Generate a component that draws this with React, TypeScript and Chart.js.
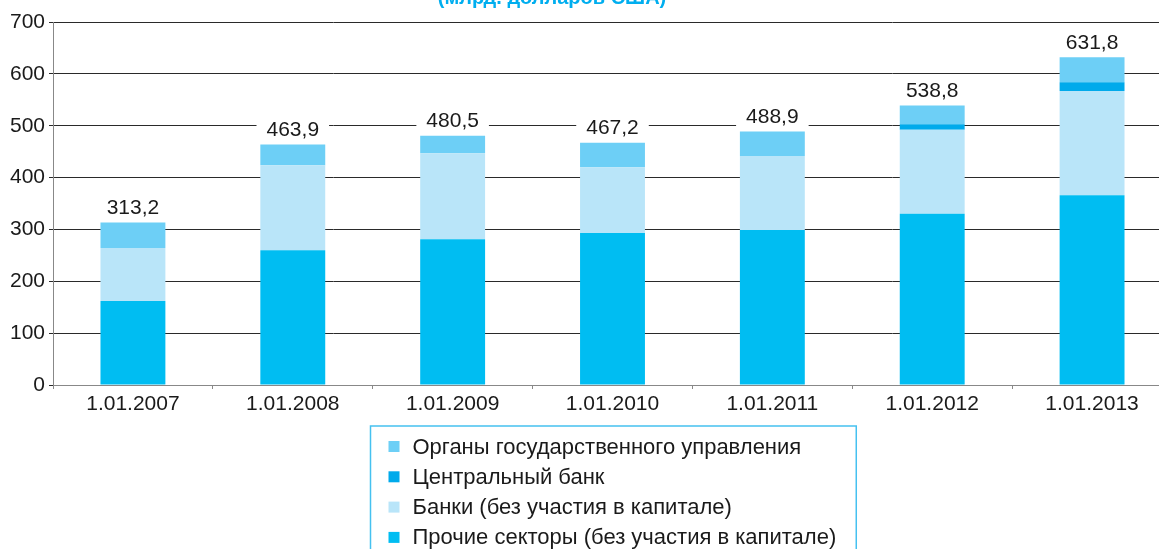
import React, { useEffect, useRef } from "react";
import { Chart, registerables } from "chart.js";

Chart.register(...registerables);

const categories = ["1.01.2007", "1.01.2008", "1.01.2009", "1.01.2010", "1.01.2011", "1.01.2012", "1.01.2013"];
const totals = [313.2, 463.9, 480.5, 467.2, 488.9, 538.8, 631.8];
const prochie = [162, 260, 281, 293, 299, 330, 366];
const banki = [102, 164, 166, 127, 142.6, 162, 201];
const centralBank = [0, 0, 0, 0, 0, 11, 17];
const organy = [49.2, 39.9, 33.5, 47.2, 47.3, 35.8, 47.8];
const yTicks = [0, 100, 200, 300, 400, 500, 600, 700];
const titleText = "(млрд. долларов США)";

const FONT = "'Liberation Sans', Arial, Helvetica, sans-serif";

const totalsPlugin = {
  id: "totalsPlugin",
  afterDatasetsDraw(chart: any) {
    const ctx = chart.ctx;
    const n = chart.data.datasets.length;
    const meta = chart.getDatasetMeta(n - 1);
    ctx.save();
    ctx.font = `21px ${FONT}`;
    ctx.textAlign = "center";
    ctx.textBaseline = "middle";
    meta.data.forEach((el: any, i: number) => {
      const txt = totals[i].toFixed(1).replace(".", ",");
      const w = ctx.measureText(txt).width + 20;
      const cy = el.y - 15.5;
      ctx.fillStyle = "#ffffff";
      ctx.fillRect(el.x - w / 2, cy - 11, w, 22);
      ctx.fillStyle = "#1a1a1a";
      ctx.fillText(txt, el.x, cy + 1);
    });
    ctx.restore();
  },
};

const extrasPlugin = {
  id: "extrasPlugin",
  afterDraw(chart: any) {
    const ctx = chart.ctx;
    const area = chart.chartArea;
    ctx.save();
    // title (partly outside the visible page)
    ctx.font = `bold 20px ${FONT}`;
    ctx.fillStyle = "#00AEEF";
    ctx.textAlign = "center";
    ctx.textBaseline = "alphabetic";
    ctx.fillText(titleText, area.left + 499, 4);

    // legend box, items in reverse stacking order
    const ds = chart.data.datasets.slice().reverse();
    ctx.font = `22px ${FONT}`;
    let maxW = 0;
    ds.forEach((d: any) => {
      maxW = Math.max(maxW, ctx.measureText(d.label).width);
    });
    const boxW = 18 + 11 + 13 + maxW + 20;
    const cx = (area.left + area.right) / 2;
    const left = Math.round(cx - boxW / 2) + 0.5;
    const top = area.bottom + 41;
    ctx.strokeStyle = "#45C1F0";
    ctx.lineWidth = 1.5;
    ctx.strokeRect(left, top, boxW, 200);
    ds.forEach((d: any, i: number) => {
      const cy = top + 20.5 + i * 30.3;
      ctx.fillStyle = d.backgroundColor;
      ctx.fillRect(left + 18, cy - 5.5, 11, 11);
      ctx.fillStyle = "#1a1a1a";
      ctx.textAlign = "left";
      ctx.textBaseline = "middle";
      ctx.fillText(d.label, left + 42, cy + 1);
    });
    ctx.restore();
  },
};

export default function App() {
  const ref = useRef<HTMLCanvasElement | null>(null);

  useEffect(() => {
    if (!ref.current) return;
    const chart = new Chart(ref.current, {
      type: "bar",
      data: {
        labels: categories,
        datasets: [
          { label: "Прочие секторы (без участия в капитале)", data: prochie, backgroundColor: "#00BDF2" },
          { label: "Банки (без участия в капитале)", data: banki, backgroundColor: "#B9E5F9" },
          { label: "Центральный банк", data: centralBank, backgroundColor: "#00AAEB" },
          { label: "Органы государственного управления", data: organy, backgroundColor: "#6DCFF6" },
        ],
      },
      options: {
        animation: false,
        responsive: true,
        maintainAspectRatio: false,
        datasets: {
          bar: { categoryPercentage: 1, barPercentage: 0.406, borderWidth: 0 },
        } as any,
        layout: { padding: { top: 22, right: 0, bottom: 124, left: 0 } },
        plugins: {
          legend: { display: false },
          title: { display: false },
          tooltip: { enabled: false },
        },
        scales: {
          x: {
            stacked: true,
            offset: true,
            grid: {
              offset: true,
              drawOnChartArea: false,
              drawTicks: true,
              tickLength: 4,
              color: "#888888",
            },
            border: { display: true, color: "#888888", width: 1 },
            ticks: {
              padding: 3,
              color: "#1a1a1a",
              font: { family: FONT, size: 21 },
              maxRotation: 0,
              autoSkip: false,
            },
            afterFit(scale: any) {
              scale.height = 40;
            },
          },
          y: {
            stacked: true,
            min: 0,
            max: 700,
            afterBuildTicks(scale: any) {
              scale.ticks = yTicks.map((v) => ({ value: v }));
            },
            grid: {
              color: "#2a2a2a",
              lineWidth: 1,
              drawTicks: true,
              tickLength: 4,
            },
            border: { display: true, color: "#888888", width: 1 },
            ticks: {
              padding: 4,
              color: "#1a1a1a",
              font: { family: FONT, size: 21 },
            },
            afterFit(scale: any) {
              scale.width = 53;
            },
          },
        },
      },
      plugins: [totalsPlugin, extrasPlugin],
    });
    return () => chart.destroy();
  }, []);

  return (
    <div
      style={{
        position: "fixed",
        left: 0,
        top: 0,
        width: 1159,
        height: 549,
        overflow: "hidden",
        background: "#ffffff",
      }}
    >
      <div style={{ position: "absolute", left: 0, top: 0, width: 1172, height: 549 }}>
        <canvas ref={ref} />
      </div>
    </div>
  );
}
